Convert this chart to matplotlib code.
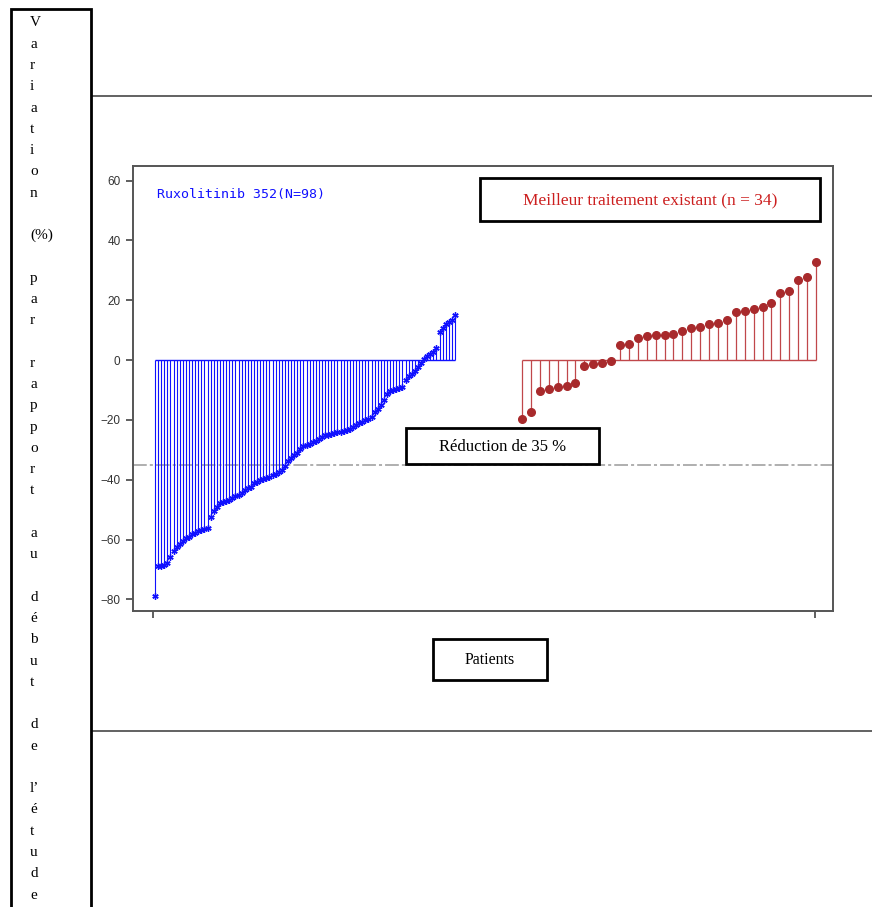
import numpy as np
import matplotlib
matplotlib.use("Agg")
import matplotlib.pyplot as plt
from matplotlib.patches import Rectangle
from matplotlib.lines import Line2D

# Variation per patient (%), sorted ascending
ruxo_change = [
    -79.0, -69.0, -69.0, -68.5, -68.0, -66.0, -64.0, -62.5, -61.5, -60.5,
    -59.5, -59.0, -58.2, -57.7, -57.2, -56.9, -56.6, -56.3, -52.4, -50.5,
    -49.0, -47.9, -47.5, -47.2, -46.8, -46.2, -45.5, -45.0, -44.4, -43.6,
    -42.9, -42.5, -41.2, -40.6, -40.1, -39.8, -39.4, -39.0, -38.5, -38.0,
    -37.5, -36.6, -35.5, -33.8, -32.6, -31.8, -31.0, -29.8, -28.8, -28.4,
    -28.0, -27.5, -27.0, -26.3, -25.7, -25.2, -24.9, -24.6, -24.4, -24.2,
    -23.9, -23.6, -23.3, -22.9, -22.5, -21.8, -21.2, -20.6, -20.1, -19.7,
    -18.9, -17.5, -16.2, -15.0, -13.2, -11.2, -10.3, -10.0, -9.6, -9.3,
    -9.1, -6.5, -5.3, -4.8, -3.8, -2.4, -1.0, 0.4, 1.4, 2.2,
    2.8, 4.0, 9.5, 10.8, 12.0, 12.8, 13.3, 15.1,
]
bat_change = [
    -19.8, -17.5, -10.4, -9.7, -8.9, -8.7, -7.6, -1.9, -1.3, -1.1,
    -0.4, 5.2, 5.5, 7.4, 7.9, 8.5, 8.5, 8.6, 9.8, 10.6,
    11.0, 12.0, 12.5, 13.4, 16.1, 16.3, 17.2, 17.7, 19.0, 22.5,
    23.2, 26.9, 27.8, 32.9,
]
y_ticks = [-80, -60, -40, -20, 0, 20, 40, 60]
threshold = -35

ruxo_label = "Ruxolitinib 352(N=98)"
bat_label = "Meilleur traitement existant (n = 34)"
threshold_label = "Réduction de 35 %"
x_label = "Patients"
y_label = "Variation (%) par rapport au début de l’étude"

W, H = 872, 907
fig = plt.figure(figsize=(W / 100, H / 100), dpi=100)
fig.patch.set_facecolor("white")


def px_rect(x0, y0, x1, y1, lw=2.0, color="black"):
    """Rectangle given in pixel coordinates measured from the top-left."""
    r = Rectangle((x0 / W, 1 - y1 / H), (x1 - x0) / W, (y1 - y0) / H,
                  transform=fig.transFigure, facecolor="white",
                  edgecolor=color, linewidth=lw, zorder=5)
    fig.add_artist(r)


def px_text(x, y, s, **kw):
    fig.text(x / W, 1 - y / H, s, zorder=6, **kw)


# plot area
ax_left, ax_right, ax_top, ax_bottom = 133, 833, 166, 611
ax = fig.add_axes([ax_left / W, 1 - ax_bottom / H,
                   (ax_right - ax_left) / W, (ax_bottom - ax_top) / H])

# patient positions: the two arms use their own spacing
n_ruxo, n_bat = len(ruxo_change), len(bat_change)
ruxo_x = np.arange(n_ruxo, dtype=float)
bat_x = np.linspace(118.65, 213.7, n_bat)

blue = "#1010ff"
ax.vlines(ruxo_x, 0, ruxo_change, color=blue, lw=0.8, zorder=2)
ax.hlines(0, ruxo_x[0], ruxo_x[-1], color=blue, lw=1.0, zorder=2)
ax.plot(ruxo_x, ruxo_change, ls="none", marker=(6, 2, 0), ms=4.5,
        mec=blue, mew=1.0, zorder=3)

red_stem = "#c0474a"
red_dot = "#a82a2c"
ax.vlines(bat_x, 0, bat_change, color=red_stem, lw=0.9, zorder=2)
ax.hlines(0, bat_x[0], bat_x[-1], color=red_stem, lw=1.0, zorder=2)
ax.plot(bat_x, bat_change, ls="none", marker="o", ms=5.5,
        mfc=red_dot, mec=red_dot, zorder=3)

# 35 % reduction reference line
ax.axhline(threshold, color="#9a9a9a", lw=1.1, ls=(0, (9, 2, 2, 2)), zorder=1)

ax.set_xlim(-7.11, 219.2)
ax.set_ylim(-83.9, 64.9)
ax.set_yticks(y_ticks)
ax.set_yticklabels([f"{v}".replace("-", "\u2212") for v in y_ticks],
                   fontsize=8.5, color="#333333", family="Liberation Sans")
ax.set_xticks([ruxo_x[0] - 0.6, bat_x[-1] - 0.3])
ax.set_xticklabels([])
ax.tick_params(direction="out", length=5, width=1.2, color="#444444", pad=4)
for sp in ax.spines.values():
    sp.set_color("#555555")
    sp.set_linewidth(1.4)

ax.text(0.034, 0.937, ruxo_label, transform=ax.transAxes, color=blue,
        fontsize=9.5, family="DejaVu Sans Mono", va="center", ha="left")

serif = "Liberation Serif"

# boxed labels
px_rect(480, 178, 820, 221)
px_text(650, 200, bat_label, color="#cc1f1f", fontsize=12.5, family=serif,
        ha="center", va="center")

px_rect(406, 428, 599, 464)
px_text(502.5, 447, threshold_label, color="black", fontsize=12, family=serif,
        ha="center", va="center")

px_rect(433, 639, 547, 680)
px_text(490, 660, x_label, color="black", fontsize=11.5, family=serif,
        ha="center", va="center")

# table rules around the figure
for yy in (96, 731):
    fig.add_artist(Line2D([91 / W, 1], [1 - yy / H, 1 - yy / H],
                          transform=fig.transFigure, color="#555555", lw=1.3))

# vertical y-axis title, one letter per line
px_rect(11, 9, 91, 915)
lines = []
for w in y_label.split(" "):
    if w == "(%)":
        lines.append(w)
    elif w.startswith("l’"):
        lines.append("l’")
        lines.extend(list(w[2:]))
    else:
        lines.extend(list(w))
    lines.append("")
lines = lines[:-1]
y0, step = 23, 21.27
for i, ch in enumerate(lines):
    if ch:
        px_text(30, y0 + i * step, ch, fontsize=11, family=serif,
                ha="left", va="center", color="black")

fig.savefig("out.png", dpi=100)
